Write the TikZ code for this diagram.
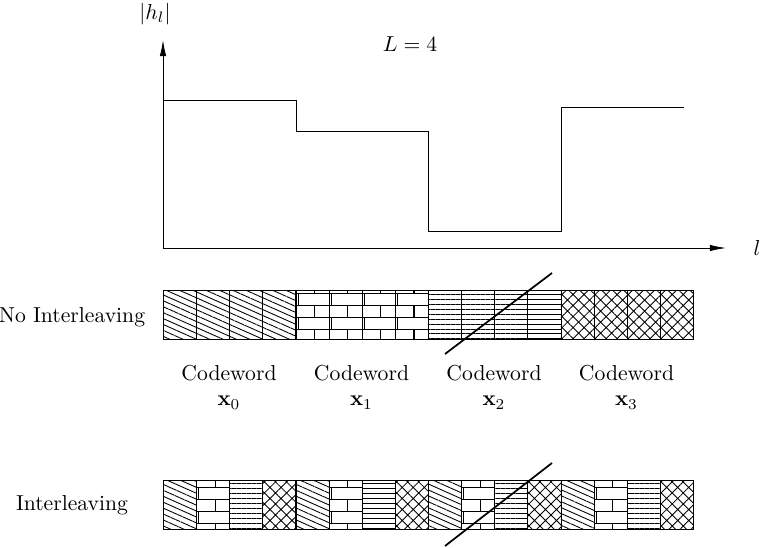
\documentclass[tikz,border=0pt]{standalone}
\usetikzlibrary{patterns,patterns.meta,arrows.meta}

% coarse bricks, one brick per cell width
\pgfdeclarepatternformonly{bigbricks}{\pgfqpoint{-1pt}{-1pt}}{\pgfqpoint{16.3pt}{12.2pt}}{\pgfqpoint{15.3pt}{11.2pt}}{
	\pgfsetlinewidth{0.5pt}
	\pgfpathmoveto{\pgfqpoint{0pt}{0pt}}\pgfpathlineto{\pgfqpoint{15.3pt}{0pt}}
	\pgfpathmoveto{\pgfqpoint{0pt}{5.6pt}}\pgfpathlineto{\pgfqpoint{15.3pt}{5.6pt}}
	\pgfpathmoveto{\pgfqpoint{0pt}{0pt}}\pgfpathlineto{\pgfqpoint{0pt}{5.6pt}}
	\pgfpathmoveto{\pgfqpoint{7.65pt}{5.6pt}}\pgfpathlineto{\pgfqpoint{7.65pt}{11.2pt}}
	\pgfusepath{stroke}
}

\begin{document}
\begin{tikzpicture}[
		x=0.462pt, y=-0.462pt,
		cell/.style={draw, anchor=north west, inner sep=0pt, minimum width=15.3pt, minimum height=22.6pt},
		diag/.style={pattern={Lines[angle=-24,distance=2.5pt]}},
		bricked/.style={pattern=bigbricks},
		hlines/.style={pattern={Lines[angle=0,distance=2.3pt]}},
		xhatch/.style={pattern={Hatch[angle=45,distance=3.6pt]}},
		axis/.style={-{Latex[length=7.5pt,width=3pt]}},
		strike/.style={thick}
	]
	\useasboundingbox (0,0) rectangle (762,548);

	% axes and channel gains
	\coordinate (O) at (163,248);
	\coordinate (yend) at (163,40);
	\coordinate (xend) at (726,248);
	\draw[axis] (O) -- (yend);
	\draw[axis] (O) -- (xend);
	\node (hlab) at (155,14) {$|h_l|$};
	\node (Llab) at (410,44) {$L = 4$};
	\node (llab) at (757,248) {$l$};
	\draw (163,100) -- (296,100) -- (296,131) -- (428,131) -- (428,231) -- (561,231) -- (561,107) -- (684,107);

	% no interleaving
	\node (noil) at (72,317) {No Interleaving};
	\foreach \p [count=\i from 0] in {diag, bricked, hlines, xhatch} {
		\foreach \j in {0,...,3} {
			\node[cell, \p] (a\i\j) at (163+132.5*\i+33.125*\j, 290) {};
		}
		\node[align=center] (cw\i) at (229+132.5*\i, 387) {Codeword \\ $\mathbf{x}_{\i}$};
	}

	% interleaving
	\node (il) at (72,505) {Interleaving};
	\foreach \j in {0,...,3} {
		\foreach \p [count=\i from 0] in {diag, bricked, hlines, xhatch} {
			\node[cell, \p] (b\j\i) at (163+132.5*\j+33.125*\i, 480) {};
		}
	}

	% lost block
	\coordinate (s1a) at (445,354);
	\coordinate (s1b) at (552,273);
	\coordinate (s2a) at (445,546);
	\coordinate (s2b) at (552,463);
	\draw[strike] (s1a) -- (s1b);
	\draw[strike] (s2a) -- (s2b);
\end{tikzpicture}
\end{document}
